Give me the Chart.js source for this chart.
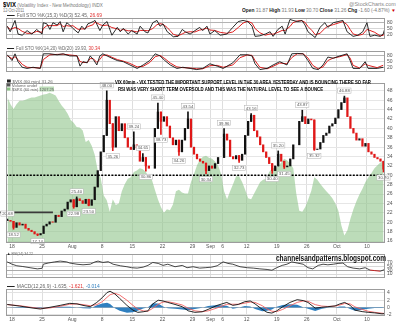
<!DOCTYPE html>
<html>
<head>
<meta charset="utf-8">
<script src="https://cdn.jsdelivr.net/npm/chart.js@4/dist/chart.umd.min.js"></script>
<style>
  body { margin: 0; width: 400px; height: 323px; overflow: hidden; position: relative; background: #fff;
         font-family: "Liberation Sans", Arial, sans-serif; }
  canvas { position: absolute; left: 0; }
  .t { position: absolute; white-space: nowrap; line-height: 1; color: #666; z-index: 5; transform-origin: left top; }
  .ln { display: inline-block; width: 1.6em; height: 0.25em; background: #222; vertical-align: middle; margin-right: 0.4em; }
  .sq { display: inline-block; width: 0.8em; height: 0.8em; vertical-align: -0.05em; margin-right: 0.4em; }
</style>
</head>
<body>
<script>
const FONT = '"Liberation Sans", Arial, sans-serif';

// x axis: trading days from Fri 15 Jul 2011 (day 0) to Wed 12 Oct 2011 (day 62)
const tickDays = [1, 6, 11, 16, 21, 26, 31, 34, 36, 40, 45, 50, 55, 60];
const tickLabels = ['18', '25', 'Aug', '8', '15', '22', '29', 'Sep', '6', '12', '19', '26', 'Oct', '10'];

// $VIX closes, two bars per trading day (null = no data)
const vixClose = [
  20.4, 20.2, 18.9, 19.9, 19.4, 19.6, 18.7, 18.3, 18.0, 17.5,
  17.3, 17.6, 19.2, 19.6, 20.1, 20.0, 21.5, 21.2, 22.4, 22.8,
  24.3, 24.8, 23.3, 25.0, 24.6, 24.0, 24.9, 23.6, 24.8, 27.5,
  31.0, 35.0, 38.5, 46.0, 41.0, 36.0, 42.5, 39.5, 41.0, 38.0,
  36.0, 35.5, 36.5, 35.8, 33.0, 33.8, 32.0, 31.5, null, 40.0,
  43.5, 41.5, 42.5, 40.5, 38.0, 36.5, 37.5, 35.0, 37.5, 40.0,
  42.0, 36.0, 34.5, 33.5, 33.0, 32.6, 31.0, 32.0, 31.5, 32.5,
  33.8, null, 38.8, 37.5, 34.0, 33.5, 34.2, 33.2, 34.5, 38.5,
  41.5, 42.8, 39.5, 38.2, 36.5, 35.0, 33.8, 32.5, 31.0, 32.0,
  34.5, 33.0, 31.8, 32.0, 33.5, 36.5, null, 41.5, 42.5, 41.0,
  42.0, 41.8, 35.5, 35.6, 37.0, 38.5, 39.0, 40.5, 41.0, 42.2,
  44.0, 45.5, 46.5, 42.5, 40.0, 39.0, 37.5, 37.8, 36.2, 36.8,
  35.0, 34.5, 33.8, 33.5, 33.0, 31.3
];

// labelled highs (1) and lows (-1): [bar, value, side]
const pivots = [
  [0, 20.68, 1], [2, 18.52, -1], [10, 17.14, -1], [22, 22.98, -1], [23, 25.40, 1], [27, 23.50, -1],
  [33, 48.00, 1], [35, 35.26, -1], [42, 39.24, 1], [45, 34.65, 1], [46, 30.86, -1],
  [50, 45.40, 1], [51, 38.73, -1], [57, 34.26, -1], [60, 43.54, 1], [66, 30.34, -1],
  [72, 39.96, 1], [77, 32.73, -1], [81, 43.16, 1], [88, 30.40, -1], [90, 35.20, 1],
  [92, 31.45, -1], [98, 43.87, 1], [102, 35.32, -1], [112, 46.88, 1], [125, 30.70, -1]
];

// $SPX behind the price, same two bars per day
const spx = [
  1341, 1328, 1319, 1328, 1335, 1335, 1337, 1339, 1341, 1341,
  1343, 1345, 1347, 1348, 1350, 1348, 1345, 1335, 1326, 1319,
  1310, 1298, 1293, 1285, 1284, 1278, 1256, 1260, 1249, 1232,
  1202, 1187, 1154, 1145, 1123, 1147, 1136, 1139, 1162, 1176,
  1186, 1189, 1199, 1202, 1206, 1204, 1199, 1189, 1184, 1165,
  1147, 1132, 1121, 1128, 1126, 1137, 1162, 1165, 1160, 1158,
  1158, 1180, 1195, 1212, 1223, 1228, 1230, 1226, 1224, 1219,
  1212, 1195, 1162, 1147, 1162, 1176, 1191, 1191, 1180, 1165,
  1149, 1147, 1158, 1169, 1180, 1184, 1186, 1199, 1206, 1206,
  1210, 1217, 1224, 1221, 1215, 1206, 1158, 1125, 1123, 1132,
  1147, 1163, 1189, 1184, 1176, 1169, 1162, 1156, 1149, 1139,
  1125, 1097, 1078, 1088, 1110, 1128, 1143, 1156, 1167, 1180,
  1189, 1197, 1206, 1212, 1217, 1219
];

const supportLevel = 30;
const jul22Line = 22.1;

// Full STO %K(15,3) %D(3)
const sto1Day = [
  0.2, 0.7, 1.5, 2.0, 2.7, 3.5, 4.3, 5.1, 6.0, 6.2, 6.8, 7.3, 7.8, 8.5, 9.0, 9.5, 10.1, 10.6, 11.1, 12.0,
  12.6, 13.1, 13.6, 14.5, 14.8, 15.6, 16.1, 16.8, 17.6, 18.5, 19.0, 19.5, 20.3, 20.9, 21.8, 22.3, 23.1, 23.6, 24.4, 25.1,
  25.6, 26.1, 26.8, 27.3, 27.8, 28.6, 29.3, 29.8, 30.6, 31.4, 32.2, 32.7, 33.4, 33.9, 34.7, 35.6, 36.7, 37.7, 38.6, 39.4,
  40.2, 40.9, 41.4, 42.2, 43.1, 43.9, 44.4, 45.2, 45.9, 46.4, 47.2, 47.7, 48.5, 49.2, 49.7, 50.2, 50.9, 51.4, 52.2, 53.0,
  53.5, 54.4, 55.2, 56.0, 56.7, 57.2, 57.7, 58.5, 59.3, 60.0, 60.5, 61.3, 62.2, 62.7, 63.0
];
const sto1K = [
  62, 33, 92, 21, 15, 39, 21, 45, 21, 80, 74, 45, 80, 68, 86, 33, 80, 68, 51, 27,
  62, 45, 74, 86, 92, 39, 68, 86, 15, 56, 33, 51, 21, 39, 21, 62, 33, 27, 80, 92,
  62, 74, 33, 21, 7, 9, 45, 33, 21, 39, 56, 39, 62, 21, 39, 15, 21, 56, 86, 92,
  86, 62, 9, 12, 21, 33, 9, 45, 62, 21, 97, 92, 86, 92, 68, 33, 15, 3, 56, 80,
  56, 80, 86, 92, 33, 21, 9, 15, 33, 80, 9, 15, 9, 21, 52.45
];
const sto1D = [
  60, 45, 55, 50, 35, 25, 25, 35, 30, 50, 65, 65, 65, 65, 75, 60, 65, 62, 65, 45,
  48, 48, 60, 70, 85, 70, 65, 68, 55, 48, 40, 45, 38, 38, 32, 40, 40, 38, 50, 70,
  75, 72, 55, 38, 20, 12, 22, 30, 33, 32, 42, 45, 52, 42, 40, 30, 25, 32, 55, 78,
  88, 78, 50, 28, 15, 22, 20, 30, 40, 40, 60, 80, 90, 90, 82, 60, 38, 18, 25, 50,
  62, 70, 78, 86, 70, 45, 22, 14, 20, 45, 40, 30, 12, 14, 26.69
];

// Full STO %K(14,20) %D(20)
const sto2Day = [
  0.2, 1.0, 1.5, 2.0, 2.7, 3.5, 4.5, 5.7, 6.2, 7.3, 8.5, 9.5, 10.6, 11.8, 12.3, 12.8, 13.5, 14.0, 14.5, 15.1,
  15.6, 16.1, 16.8, 17.6, 18.5, 19.5, 20.6, 21.8, 22.8, 23.9, 24.8, 25.6, 26.4, 27.3, 28.4, 29.4, 30.6, 31.7, 32.7, 33.9,
  35.1, 36.1, 37.7, 38.9, 40.1, 40.9, 41.4, 42.2, 43.4, 44.4, 45.5, 46.7, 47.5, 48.4, 49.4, 50.2, 51.0, 51.9, 52.7, 53.5,
  54.4, 55.5, 56.7, 57.2, 57.7, 58.8, 59.7, 60.2, 61.7, 62.7
];
const sto2K = [
  85, 55, 90, 49, 20, 14, 20, 14, 90, 90, 85, 90, 79, 79, 26, 49, 43, 79, 61, 32,
  79, 90, 79, 67, 55, 49, 32, 14, 32, 55, 90, 79, 55, 32, 14, 20, 14, 8, 14, 38,
  26, 14, 43, 85, 85, 79, 38, 8, 14, 32, 49, 32, 90, 92, 90, 55, 14, 8, 32, 73,
  67, 79, 90, 55, 14, 14, 49, 14, 14, 19.93
];
const sto2D = [
  80, 65, 75, 60, 35, 20, 18, 16, 60, 85, 87, 88, 84, 80, 50, 45, 45, 65, 65, 45,
  60, 82, 84, 72, 60, 52, 40, 22, 25, 45, 75, 82, 65, 42, 22, 18, 16, 12, 12, 28,
  30, 20, 32, 70, 84, 82, 55, 20, 12, 25, 42, 38, 70, 90, 90, 68, 30, 12, 22, 55,
  68, 75, 86, 68, 30, 16, 38, 30, 18, 30.34
];

// RSI(14)
const rsiDay = [
  0.2, 1.0, 1.8, 2.8, 4.0, 5.2, 6.0, 6.2, 7.0, 8.1, 9.0, 10.1, 10.6, 11.8, 12.8, 14.0, 14.8, 15.3, 16.1, 17.0,
  17.8, 19.0, 20.1, 20.9, 21.8, 22.8, 23.6, 24.4, 25.3, 26.1, 26.9, 28.1, 29.3, 30.1, 31.1, 32.2, 33.1, 34.2, 35.1, 36.1,
  36.9, 37.7, 38.9, 40.1, 41.1, 42.2, 43.4, 44.2, 45.0, 45.9, 46.7, 47.5, 48.4, 49.4, 50.2, 51.0, 51.9, 52.7, 53.5, 54.4,
  55.2, 56.0, 56.8, 57.7, 58.8, 59.7, 60.5, 61.3, 62.2, 63.0
];
const rsi = [
  73, 61, 53, 49, 43, 37, 40, 61, 67, 73, 77, 73, 67, 61, 58, 61, 73, 77, 70, 74,
  61, 53, 48, 43, 41, 46, 55, 70, 65, 55, 61, 48, 55, 43, 48, 41, 43, 46, 53, 73,
  65, 61, 48, 43, 41, 37, 34, 30, 43, 55, 61, 73, 67, 61, 43, 37, 55, 61, 58, 61,
  65, 67, 48, 41, 37, 43, 31, 28, 25, 34.22
];

// MACD(12,26,9)
const macdDay = [
  0.2, 2.3, 4.5, 5.7, 7.3, 9.0, 10.6, 11.8, 12.8, 14.0, 15.1, 16.0, 16.8, 17.3, 18.1, 18.9, 20.1, 21.1, 21.9, 22.8,
  23.6, 24.4, 25.3, 26.1, 26.9, 28.1, 29.3, 30.3, 31.4, 32.6, 33.6, 35.1, 36.7, 37.7, 38.6, 39.7, 40.6, 41.4, 42.6, 43.4,
  44.2, 45.0, 46.0, 47.2, 48.4, 49.4, 50.2, 51.4, 52.5, 53.5, 54.7, 55.5, 56.3, 57.2, 58.0, 59.2, 60.2, 61.3, 62.5, 63.0
];
const macd = [
  0.85, 0.4, -0.15, -0.4, 0.07, 0.6, 1.15, 1.0, 0.6, 0.23, 1.4, 2.7, 4.1, 4.45, 3.7, 2.5, 0.6, -0.7, -1.3, -1.15,
  -0.9, 1.0, 2.0, 1.8, 1.4, 0.85, 0.23, -0.9, -1.3, -1.15, -0.5, 0.6, 1.4, 0.6, 0.85, 1.6, 1.8, 1.0, -0.5, -1.3,
  -1.5, -0.9, 0.23, 1.4, 2.15, 1.9, 1.4, -0.15, 0.07, 0.23, 0.45, 1.0, 1.4, 0.6, -0.7, -1.1, -1.3, -1.45, -1.7, -1.635
];
const macdSignal = [
  0.8, 0.5, 0.0, -0.25, -0.1, 0.35, 0.9, 1.0, 0.8, 0.5, 0.8, 1.6, 2.8, 3.5, 3.9, 3.4, 2.0, 0.6, -0.4, -0.9,
  -1.0, -0.2, 0.9, 1.5, 1.6, 1.2, 0.7, -0.2, -0.9, -1.1, -0.9, -0.1, 0.9, 0.9, 0.9, 1.2, 1.5, 1.4, 0.5, -0.4,
  -1.0, -1.1, -0.5, 0.5, 1.4, 1.8, 1.7, 0.8, 0.4, 0.3, 0.4, 0.7, 1.1, 1.0, 0.2, -0.5, -1.0, -1.3, -1.55, -1.621
];
const macdHist = [
  0.05, -0.1, -0.15, -0.15, 0.17, 0.25, 0.25, 0.0, -0.2, -0.27, 0.6, 1.1, 1.3, 0.95, -0.2, -0.9, -1.4, -1.3, -0.9, -0.25,
  0.1, 1.2, 1.1, 0.3, -0.2, -0.35, -0.5, -0.7, -0.4, -0.05, 0.4, 0.7, 0.5, -0.3, -0.05, 0.4, 0.3, -0.4, -1.0, -0.9,
  -0.5, 0.2, 0.7, 0.9, 0.75, 0.1, -0.3, -0.95, -0.35, -0.07, 0.05, 0.3, 0.3, -0.4, -0.9, -0.6, -0.3, -0.15, -0.15, -0.014
];

const mainTicks = [16, 18, 20, 22, 24, 26, 28, 30, 32, 34, 36, 38, 40, 42, 44, 46, 48];

const UP = '#111';
const DOWN = '#e01818';
const barDay = (k) => k / 2 + 0.25;
const pairs = (xs, ys) => xs.map((x, i) => ({ x, y: ys[i] }));

// --- candles built from the closes ---
const bodies = [], bodyColors = [], openAt = {};
let prev = null;
vixClose.forEach((c, k) => {
  if (c === null) return;
  const open = prev === null ? c : prev;
  openAt[k] = open;
  bodies.push({ x: barDay(k), y: [open, c] });
  bodyColors.push(c >= open ? UP : DOWN);
  prev = c;
});
const wicks = [], wickColors = [];
pivots.forEach(([k, v]) => {
  const c = vixClose[k], o = openAt[k];
  wicks.push({ x: barDay(k), y: [Math.min(o, c, v), Math.max(o, c, v)] });
  wickColors.push(c >= o ? UP : DOWN);
});

// --- helpers ---
const frame = {
  id: 'frame',
  afterDraw(c) {
    const a = c.chartArea, ctx = c.ctx;
    ctx.save();
    ctx.strokeStyle = '#9c9c9c';
    ctx.lineWidth = 1;
    ctx.strokeRect(Math.round(a.left) + 0.5, Math.round(a.top) + 0.5, Math.round(a.width) - 1, Math.round(a.height) - 1);
    ctx.restore();
  }
};

const tags = {
  id: 'tags',
  afterDatasetsDraw(c) {
    const ctx = c.ctx, xs = c.scales.x, ys = c.scales.y;
    ctx.save();
    ctx.font = '4.3px ' + FONT;
    ctx.textAlign = 'center';
    ctx.textBaseline = 'middle';
    pivots.forEach(([k, v, side]) => {
      const t = v.toFixed(2);
      const px = xs.getPixelForValue(barDay(k));
      const py = ys.getPixelForValue(v) - side * 5.5;
      const w = ctx.measureText(t).width + 2.5;
      ctx.fillStyle = '#fff';
      ctx.fillRect(px - w / 2, py - 2.6, w, 5.2);
      ctx.strokeStyle = '#b0b0b0';
      ctx.lineWidth = 0.5;
      ctx.strokeRect(px - w / 2, py - 2.6, w, 5.2);
      ctx.fillStyle = '#555';
      ctx.fillText(t, px, py + 0.3);
    });
    ctx.restore();
  }
};

function xAxis(showLabels, h) {
  return {
    type: 'linear', min: 0, max: 63, offset: false,
    afterBuildTicks: (s) => { s.ticks = tickDays.map((v) => ({ value: v })); },
    afterFit: (s) => { s.height = h; },
    ticks: {
      display: showLabels, autoSkip: false, maxRotation: 0, padding: 1,
      font: { size: 5, family: FONT }, color: '#555',
      callback: (v, i) => tickLabels[i]
    },
    grid: { color: '#dedede', drawTicks: false, offset: false },
    border: { display: false }
  };
}

function yAxis(min, max, ticks, gridColor) {
  return {
    position: 'right', min, max,
    afterBuildTicks: (s) => { s.ticks = ticks.map((v) => ({ value: v })); },
    afterFit: (s) => { s.width = 15; },
    ticks: { padding: 2, autoSkip: false, font: { size: 5, family: FONT }, color: '#555' },
    grid: { color: gridColor, drawTicks: false },
    border: { display: false }
  };
}

function makeChart(top, height, cfg) {
  const cv = document.createElement('canvas');
  cv.width = 400;
  cv.height = height;
  cv.style.top = top + 'px';
  document.body.appendChild(cv);
  cfg.options = Object.assign({
    responsive: false, animation: false, events: [],
    layout: { padding: { left: 6, right: 0, top: 0, bottom: 0 } },
    elements: { point: { radius: 0 }, line: { borderWidth: 1, tension: 0 } },
    plugins: { legend: { display: false }, tooltip: { enabled: false } }
  }, cfg.options);
  cfg.plugins = [frame].concat(cfg.plugins || []);
  return new Chart(cv, cfg);
}

const stoGrid = (ctx) => (ctx.tick && ctx.tick.value === 50 ? '#d6d6d6' : '#b4b4b4');

// --- stochastics ---
makeChart(13, 31, {
  type: 'line',
  data: { datasets: [
    { data: pairs(sto1Day, sto1K), borderColor: '#151515', borderWidth: 0.9 },
    { data: pairs(sto1Day, sto1D), borderColor: '#e02020', borderWidth: 1 }
  ] },
  options: { scales: { x: xAxis(false, 0), y: yAxis(-4.6, 104.6, [20, 50, 80], stoGrid) } }
});

makeChart(46, 31, {
  type: 'line',
  data: { datasets: [
    { data: pairs(sto2Day, sto2K), borderColor: '#151515', borderWidth: 0.9 },
    { data: pairs(sto2Day, sto2D), borderColor: '#e02020', borderWidth: 1 }
  ] },
  options: { scales: { x: xAxis(false, 0), y: yAxis(-4.6, 104.6, [20, 50, 80], stoGrid) } }
});

// --- main price panel ---
makeChart(78, 174, {
  type: 'bar',
  data: { datasets: [
    { type: 'line', data: spx.map((v, k) => ({ x: barDay(k), y: v })), yAxisID: 'spx',
      fill: 'start', backgroundColor: 'rgba(140,195,135,0.58)', borderWidth: 0, order: 10 },
    { type: 'bar', data: wicks, backgroundColor: wickColors, barThickness: 1, grouped: false, order: 3 },
    { type: 'bar', data: bodies, backgroundColor: bodyColors, barThickness: 1.6, grouped: false, order: 2 },
    { type: 'line', data: [{ x: 0, y: supportLevel }, { x: 63, y: supportLevel }], borderColor: '#000',
      borderWidth: 1.6, borderDash: [2, 1.4], order: 1 },
    { type: 'line', data: [{ x: -1, y: jul22Line }, { x: 7.8, y: jul22Line }], borderColor: '#3a3a3a',
      borderWidth: 1.8, clip: false, order: 1 }
  ] },
  options: {
    scales: {
      x: xAxis(true, 9),
      y: yAxis(15.58, 49.67, mainTicks, '#e6e6e6'),
      spx: { display: false, min: 1063.5, max: 1368.75 }
    }
  },
  plugins: [tags]
});

// --- RSI ---
makeChart(249, 34, {
  type: 'line',
  data: { datasets: [
    { data: pairs(rsiDay, rsi), borderColor: '#333', borderWidth: 0.9,
      segment: { borderColor: (s) => (s.p1.parsed.y < 30 ? '#c41010' : '#333') } }
  ] },
  options: { scales: { x: xAxis(false, 0),
    y: yAxis(-10, 113.6, [10, 30, 50, 70], (ctx) => (ctx.tick && (ctx.tick.value === 30 || ctx.tick.value === 70) ? '#aaa' : '#d8d8d8')) } }
});

// --- MACD ---
makeChart(284, 40, {
  type: 'line',
  data: { datasets: [
    { data: pairs(macdDay, macd), borderColor: '#111', borderWidth: 0.9, order: 1 },
    { data: pairs(macdDay, macdSignal), borderColor: '#f06060', borderWidth: 0.9, order: 2 },
    { data: pairs(macdDay, macdHist), borderWidth: 0, fill: 'origin', backgroundColor: '#2f7fbf', order: 3 }
  ] },
  options: { scales: { x: xAxis(true, 8),
    y: yAxis(-2.3, 5.06, [-2, 0, 2, 4], (ctx) => (ctx.tick && ctx.tick.value === 0 ? '#bbb' : '#e2e2e2')) } }
});

// --- text ---
function label(html, x, y, size, w, style) {
  const el = document.createElement('div');
  el.className = 't';
  el.innerHTML = html;
  el.style.left = x + 'px';
  el.style.top = y + 'px';
  el.style.fontSize = size * 2 + 'px';
  if (style) el.style.cssText += style;
  document.body.appendChild(el);
  const sx = w ? w / el.offsetWidth : 0.5;
  el.style.transform = `scale(${sx}, 0.5)`;
}

label('<b style="color:#000;font-size:1.3em">$VIX</b> (Volatility Index - New Methodology) INDX', 3, 0.5, 5.5, 100, 'color:#777');
label('12-Oct-2011', 3, 8.3, 4.5, 21, 'color:#777');
label('@StockCharts.com', 349, 1.5, 4.5, 47, 'color:#888');
label('<b style="color:#222">Open</b> 31.87 <b style="color:#222">High</b> 31.93 <b style="color:#222">Low</b> 30.70 ' +
      '<b style="color:#222">Close</b> 31.26 <b style="color:#222">Chg</b> -1.60 (-4.87%) <span style="color:#c00">&#9660;</span>',
      242, 8, 4.5, 154, 'color:#777');

label('<i class="ln"></i>Full STO %K(15,3) %D(3) 52.45, <span style="color:#e03030">26.69</span>', 7, 13, 4.5, 95);
label('<i class="ln"></i>Full STO %K(14,20) %D(20) 19.93, <span style="color:#e03030">30.34</span>', 7, 46.3, 4.5, 93);

label('<i class="sq" style="background:#222"></i>$VIX (60 min) 31.26', 7, 78.6, 4.2, 46);
label('<i class="sq" style="background:#555"></i>Volume undef', 7, 83, 4.2, 30);
label('<i class="sq" style="background:#8cc386"></i>$SPX (60 min) <span style="background:#bcdcb8">1207.25</span>', 7, 87.4, 4.2, 47);

label('VIX 60min - VIX TESTED THE IMPORTANT SUPPORT LEVEL IN THE 30 AREA YESTERDAY AND IS BOUNCING THERE SO FAR',
      115, 79.5, 5, 256, 'color:#000;font-weight:bold');
label('RSI WAS VERY SHORT TERM OVERSOLD AND THIS WAS THE NATURAL LEVEL TO SEE A BOUNCE',
      118, 86.5, 5, 205, 'color:#000;font-weight:bold');

label('<span style="color:#222">&#9650;</span> RSI(14) 34.22', 7, 250.6, 4.2, 26);
label('channelsandpatterns.blogspot.com', 276, 253.8, 8.5, 110, 'color:#111;font-weight:bold');
label('<i class="ln"></i>MACD(12,26,9) -1.635, <span style="color:#e03030">-1.621</span>, <span style="color:#2f7fbf">-0.014</span>',
      7, 284.2, 4.5, 93);
</script>
</body>
</html>
